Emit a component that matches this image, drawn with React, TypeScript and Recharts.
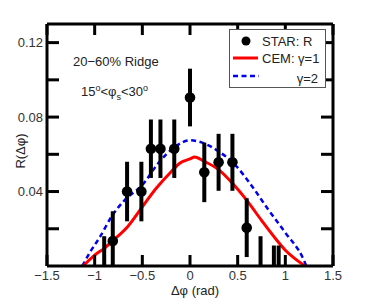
import React from 'react';
import { ComposedChart, Line, Scatter, ErrorBar, XAxis, YAxis, Legend, Customized } from 'recharts';

// axis ticks
const xTicks = [-1.5, -1, -0.5, 0, 0.5, 1, 1.5];
const yTicks = [0.02, 0.04, 0.06, 0.08, 0.1, 0.12];
const yLabelled = [0.04, 0.08, 0.12];

// STAR ridge points (points below 0 are off-scale, only their bars show)
const starX = [-0.9, -0.81, -0.66, -0.51, -0.41, -0.31, -0.165, 0.0, 0.15, 0.3, 0.445, 0.595, 0.74, 0.88, 0.93];
const starY = [-0.006, 0.0134, 0.04, 0.04, 0.063, 0.063, 0.063, 0.0905, 0.0503, 0.0557, 0.0557, 0.0206, -0.006, -0.006, -0.006];
const starErr = [0.022, 0.016, 0.016, 0.016, 0.0157, 0.0157, 0.0157, 0.0155, 0.016, 0.0153, 0.0153, 0.0158, 0.022, 0.017, 0.017];

// CEM gamma=1 (red)
const cem1X = [-1.12, -1.0, -0.9, -0.8, -0.65, -0.5, -0.35, -0.2, -0.1, 0.0, 0.05, 0.15, 0.3, 0.45, 0.6, 0.75, 0.9, 1.0, 1.1, 1.21];
const cem1Y = [0, 0.0058, 0.0095, 0.014, 0.0214, 0.0318, 0.042, 0.0505, 0.0555, 0.0575, 0.0586, 0.0562, 0.0518, 0.0442, 0.035, 0.0245, 0.0145, 0.0085, 0.004, 0];

// CEM gamma=2 (blue dashed)
const cem2X = [-1.13, -1.05, -0.94, -0.82, -0.68, -0.5, -0.33, -0.15, 0.0, 0.12, 0.3, 0.47, 0.65, 0.82, 1.0, 1.19, 1.22];
const cem2Y = [0, 0.0073, 0.016, 0.0268, 0.0357, 0.0435, 0.0554, 0.0643, 0.0675, 0.0664, 0.0616, 0.0545, 0.0429, 0.0304, 0.0179, 0.0036, 0];

// error bars are cut at the x axis, like the frame clips them in the original
const star = starX.map((x, i) => {
  const y = starY[i];
  const e = starErr[i];
  const bottom = Math.max(0, y - e);
  return { x, y, err: [y - bottom, e] };
});
const cem1 = cem1X.map((x, i) => ({ x, y: cem1Y[i] }));
const cem2 = cem2X.map((x, i) => ({ x, y: cem2Y[i] }));

const FONT = '"Liberation Sans", Arial, sans-serif';

const fmtX = (v: number) => (v < 0 ? '\u2212' + String(-v) : String(v));
const fmtY = (v: number) => (yLabelled.some((t) => Math.abs(t - v) < 1e-6) ? v.toFixed(2) : '');

const LegendBox = () => (
  <svg width={97} height={59} style={{ display: 'block', fontFamily: FONT }}>
    <rect x={0.5} y={0.5} width={96} height={58} fill="#fff" stroke="#555" strokeWidth={1} />
    <circle cx={17} cy={12} r={4.5} fill="#000" />
    <text x={33} y={16.5} fontSize={13} fill="#222">STAR: R</text>
    <line x1={4} x2={29} y1={29} y2={29} stroke="#ff0000" strokeWidth={3} />
    <text x={33} y={34} fontSize={13} fill="#222">CEM: γ=1</text>
    <line x1={4} x2={30} y1={47} y2={47} stroke="#0000ee" strokeWidth={2.5} strokeDasharray="5 3.5" />
    <text x={89} y={54} fontSize={13} fill="#222" textAnchor="end">γ=2</text>
  </svg>
);

const Notes = () => (
  <g fontFamily={FONT} fill="#222">
    <text x={73} y={66} fontSize={13}>20−60% Ridge</text>
    <text x={81} y={96} fontSize={13}>
      15<tspan fontSize={9} dy={-5}>o</tspan>
      <tspan dy={5}>&lt;φ</tspan>
      <tspan fontSize={9} dy={4}>s</tspan>
      <tspan dy={-4}>&lt;30</tspan>
      <tspan fontSize={9} dy={-5}>o</tspan>
    </text>
    <text x={195} y={295} fontSize={13} textAnchor="middle">Δφ (rad)</text>
    <text x={25} y={151} fontSize={13} textAnchor="middle" transform="rotate(-90 25 151)">R(Δφ)</text>
  </g>
);

const Dot = (p: any) => <circle cx={p.cx} cy={p.cy} r={5.3} fill="#000" />;

export default function App() {
  return (
    <div style={{ position: 'absolute', left: 0, top: 0 }}>
      <ComposedChart width={374} height={307} margin={{ top: 0, right: 0, bottom: 0, left: 0 }}>
        <XAxis
          xAxisId={0}
          type="number"
          dataKey="x"
          domain={[-1.5, 1.5]}
          ticks={xTicks}
          tickFormatter={fmtX}
          allowDataOverflow
          height={41}
          tickSize={-11}
          tickMargin={16}
          axisLine={{ stroke: '#000', strokeWidth: 3 }}
          tickLine={{ stroke: '#000', strokeWidth: 3 }}
          tick={{ fill: '#333', fontSize: 13, fontFamily: FONT }}
        />
        <XAxis
          xAxisId="t"
          orientation="top"
          type="number"
          dataKey="x"
          domain={[-1.5, 1.5]}
          ticks={xTicks}
          allowDataOverflow
          height={24}
          tickSize={-11}
          axisLine={{ stroke: '#000', strokeWidth: 3 }}
          tickLine={{ stroke: '#000', strokeWidth: 3 }}
          tick={() => <g />}
        />
        <YAxis
          yAxisId={0}
          type="number"
          dataKey="y"
          domain={[0, 0.13]}
          ticks={yTicks}
          tickFormatter={fmtY}
          allowDataOverflow
          width={47}
          tickSize={-12}
          tickMargin={16}
          axisLine={{ stroke: '#000', strokeWidth: 3 }}
          tickLine={{ stroke: '#000', strokeWidth: 3 }}
          tick={{ fill: '#333', fontSize: 13, fontFamily: FONT }}
        />
        <YAxis
          yAxisId="r"
          orientation="right"
          type="number"
          dataKey="y"
          domain={[0, 0.13]}
          ticks={yTicks}
          allowDataOverflow
          width={41}
          tickSize={-12}
          axisLine={{ stroke: '#000', strokeWidth: 3 }}
          tickLine={{ stroke: '#000', strokeWidth: 3 }}
          tick={() => <g />}
        />
        <Line data={cem2} dataKey="y" type="monotone" stroke="#0000ee" strokeWidth={2.5} strokeDasharray="5 3.5" dot={false} isAnimationActive={false} />
        <Line data={cem1} dataKey="y" type="monotone" stroke="#ff0000" strokeWidth={3} dot={false} isAnimationActive={false} />
        <Scatter data={star} dataKey="y" fill="#000" shape={Dot} isAnimationActive={false}>
          <ErrorBar dataKey="err" direction="y" width={0} stroke="#000" strokeWidth={4} isAnimationActive={false} />
        </Scatter>
        <Customized component={Notes} />
        <Legend
          layout="horizontal"
          verticalAlign="middle"
          align="center"
          content={() => <LegendBox />}
          wrapperStyle={{ position: 'absolute', left: 229, top: 29, width: 97, height: 59 }}
        />
      </ComposedChart>
    </div>
  );
}
